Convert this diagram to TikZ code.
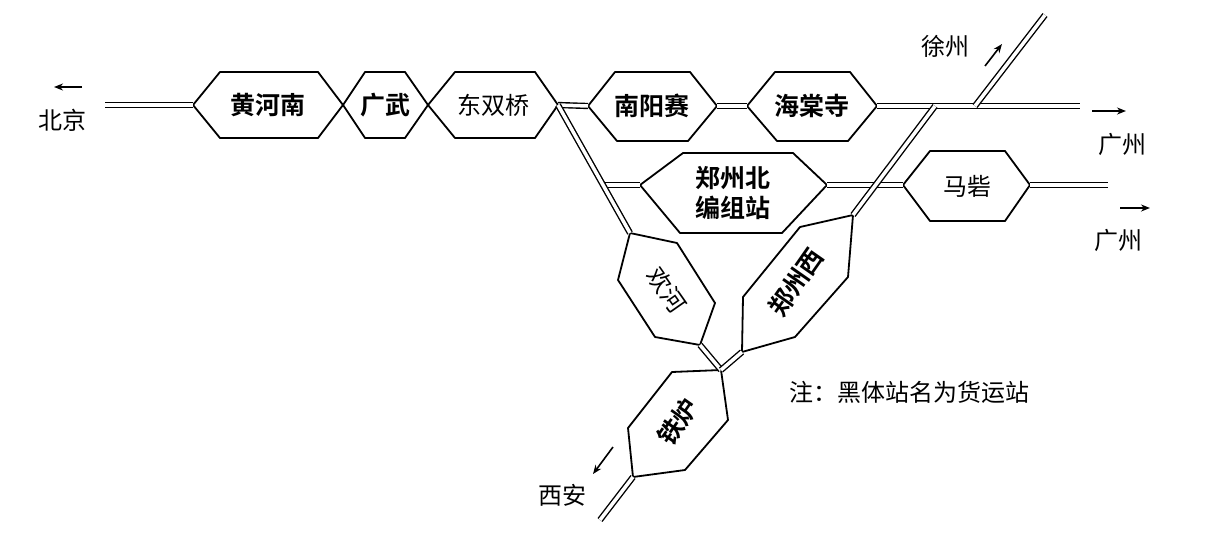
\documentclass[tikz,border=0pt]{standalone}
\usepackage{fontspec}
\newfontfamily\cjk{Noto Sans CJK SC}
\newfontfamily\cjkb{Noto Sans CJK SC Bold}
\usetikzlibrary{arrows.meta}
\tikzset{
  rail/.style={double, double distance=3.5pt, line width=1.4pt},
  hexa/.style={line width=1.8pt, line join=round},
  zhan/.style={font=\cjkb\fontsize{25}{30}\selectfont, inner sep=1pt},
  diming/.style={font=\cjk\fontsize{24}{28}\selectfont, inner sep=1pt},
  fang/.style={-{Stealth[length=9pt,width=7pt]}, line width=1.6pt}
}
\begin{document}
\begin{tikzpicture}[x=1pt,y=-1pt]
\useasboundingbox (0,0) rectangle (1206,533);

% top row
\coordinate (bj) at (105,105);
\coordinate (h1) at (193,105);
\coordinate (h2) at (343,105);
\coordinate (h3) at (428,105);
\coordinate (h4) at (558,105);
\draw[hexa] (h1) -- (220,72) -- (318,72) -- (h2) -- (318,138) -- (220,138) -- cycle;
\draw[hexa] (h2) -- (365,72) -- (405,72) -- (h3) -- (405,138) -- (365,138) -- cycle;
\draw[hexa] (h3) -- (455,72) -- (535,72) -- (h4) -- (535,138) -- (455,138) -- cycle;
\node[zhan] (hhn) at (268,105) {黄河南};
\node[zhan] (gw) at (385,105) {广武};
\node[diming] (dsq) at (493,105) {东双桥};

\coordinate (n1) at (588,106);
\coordinate (n2) at (717,106);
\coordinate (n3) at (747,106);
\coordinate (n4) at (877,106);
\draw[hexa] (n1) -- (615,72) -- (690,72) -- (n2) -- (688,141) -- (617,141) -- cycle;
\draw[hexa] (n3) -- (775,72) -- (850,72) -- (n4) -- (848,141) -- (777,141) -- cycle;
\node[zhan] (nys) at (652,106) {南阳赛};
\node[zhan] (hts) at (812,106) {海棠寺};
\coordinate (gz1) at (1080,106);
\coordinate (xj) at (935,106);

\draw[rail] (bj) -- (h1);
\draw[rail] (h4) -- (n1);
\draw[rail] (n2) -- (n3);
\draw[rail] (n4) -- (gz1);

% middle row
\coordinate (z0) at (605,185);
\coordinate (z1) at (640,185);
\coordinate (z2) at (827,185);
\coordinate (m1) at (903,185);
\coordinate (m2) at (1030,185);
\coordinate (gz2) at (1108,185);
\draw[hexa] (z1) -- (683,153) -- (793,153) -- (z2) -- (782,233) -- (680,233) -- cycle;
\draw[hexa] (m1) -- (930,151) -- (1005,151) -- (m2) -- (1005,221) -- (930,221) -- cycle;
\node[zhan, align=center] (zzb) at (733,193) {郑州北\\编组站};
\node[diming] (mz) at (967,186) {马砦};
\draw[rail] (z0) -- (z1);
\draw[rail] (z2) -- (m1);
\draw[rail] (m2) -- (gz2);

% branches
\coordinate (hh1) at (630,233);
\coordinate (hh2) at (700,345);
\coordinate (zx1) at (853,215);
\coordinate (zx2) at (742,352);
\coordinate (tl1) at (721,370);
\coordinate (tl2) at (633,477);
\coordinate (xa) at (600,520);
\draw[hexa] (hh1) -- (677,243) -- (715,303) -- (hh2) -- (655,337) -- (618,280) -- cycle;
\draw[hexa] (zx1) -- (848,277) -- (795,337) -- (zx2) -- (743,297) -- (800,227) -- cycle;
\draw[hexa] (tl1) -- (728,420) -- (685,470) -- (tl2) -- (628,428) -- (672,372) -- cycle;
\node[diming] (hh) at (667,290) {\rotatebox{-55}{欢河}};
\node[zhan] (zzx) at (796,282) {\rotatebox{55}{郑州西}};
\node[zhan] (tl) at (678,422) {\rotatebox{55}{铁炉}};
\draw[rail] (h4) -- (hh1);
\draw[rail] (xj) -- (zx1);
\draw[rail] (hh2) -- (tl1);
\draw[rail] (zx2) -- (tl1);
\draw[rail] (tl2) -- (xa);
\draw[rail] (1045,15) coordinate (xz) -- (975,106) coordinate (xz0);

% directions
\draw[fang] (82,87) coordinate (a1) -- (54,87) coordinate (a2);
\node[diming] (bjl) at (62,120) {北京};
\draw[fang] (1092,111) coordinate (a3) -- (1126,111) coordinate (a4);
\node[diming] (gzl1) at (1122,144) {广州};
\draw[fang] (1120,208) coordinate (a5) -- (1150,208) coordinate (a6);
\node[diming] (gzl2) at (1118,240) {广州};
\draw[fang] (985,66) coordinate (a7) -- (1002,44) coordinate (a8);
\node[diming] (xzl) at (945,46) {徐州};
\draw[fang] (613,447) coordinate (a9) -- (593,474) coordinate (a10);
\node[diming] (xal) at (562,495) {西安};

\node[diming, anchor=west] (zhu) at (788,392) {注：黑体站名为货运站};
\end{tikzpicture}
\end{document}
